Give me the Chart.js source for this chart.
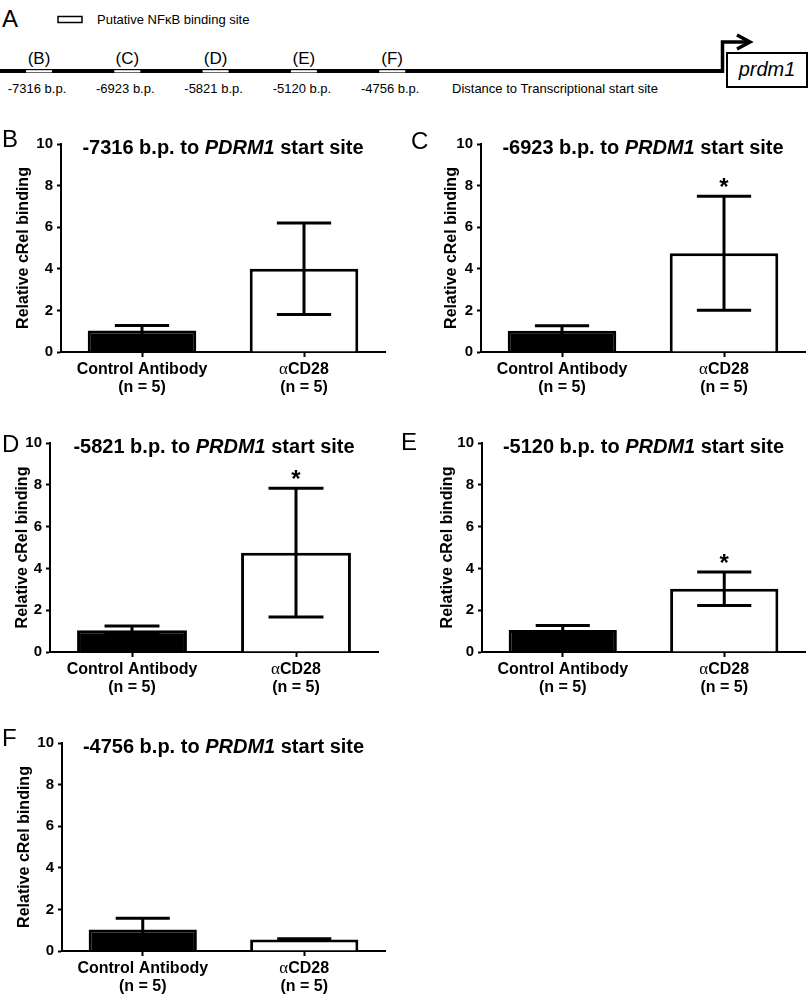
<!DOCTYPE html>
<html>
<head>
<meta charset="utf-8">
<script src="https://cdn.jsdelivr.net/npm/chart.js@4.4.1/dist/chart.umd.min.js"></script>
<style>
  body { margin: 0; background: #fff; width: 810px; height: 995px; position: relative; overflow: hidden;
         font-family: Arial, "Liberation Sans", sans-serif; }
  canvas { position: absolute; }
  .letter { position: absolute; font-size: 24px; line-height: 24px; color: #000; }
  #schematic { position: absolute; left: 0; top: 0; }
</style>
</head>
<body>
<svg id="schematic" width="810" height="110"></svg>

<script>
// ---- data ----
const categories = ["Control Antibody", "αCD28"];
const groupSizes = ["(n = 5)", "(n = 5)"];

const siteLetters = ["(B)", "(C)", "(D)", "(E)", "(F)"];
const siteDistances = ["-7316 b.p.", "-6923 b.p.", "-5821 b.p.", "-5120 b.p.", "-4756 b.p."];
const geneNames = ["PDRM1", "PRDM1", "PRDM1", "PRDM1", "PRDM1"];

const yTicksMax = 10;
const yTicksStep = 2;

const meanB = [1.03, 4.0];
const semB = [0.25, 2.2];
const starB = [false, false];

const meanC = [1.02, 4.75];
const semC = [0.24, 2.74];
const starC = [false, true];

const meanD = [1.04, 4.75];
const semD = [0.2, 3.08];
const starD = [false, true];

const meanE = [1.05, 3.03];
const semE = [0.22, 0.8];
const starE = [false, true];

const meanF = [1.03, 0.55];
const semF = [0.55, 0.04];
const starF = [false, false];

const FONT = 'Arial, "Liberation Sans", sans-serif';
Chart.defaults.font.family = FONT;
Chart.defaults.color = "#000";

// ---- panel A schematic ----
(function drawSchematic() {
  const svg = document.getElementById("schematic");
  let s = "";
  s += `<text x="2" y="27" font-family='${FONT}' font-size="24">A</text>`;
  s += `<rect x="58" y="16.5" width="24" height="6" fill="#fff" stroke="#000" stroke-width="1.5"/>`;
  s += `<text x="97" y="24" font-family='${FONT}' font-size="13">Putative NFκB binding site</text>`;
  s += `<rect x="0" y="69" width="724" height="4" fill="#000"/>`;
  siteLetters.forEach((lab, i) => {
    const bx = 26 + i * 88.3;
    s += `<rect x="${bx}" y="70.2" width="26" height="2.2" fill="#fff"/>`;
    s += `<text x="${bx + 13}" y="64" text-anchor="middle" font-family='${FONT}' font-size="17">${lab}</text>`;
    s += `<text x="${bx + 11}" y="92.7" text-anchor="middle" font-family='${FONT}' font-size="13">${siteDistances[i]}</text>`;
  });
  s += `<text x="452" y="92.7" font-family='${FONT}' font-size="13">Distance to Transcriptional start site</text>`;
  s += `<path d="M722.5 73 V42 H748" fill="none" stroke="#000" stroke-width="3.5"/>`;
  s += `<polyline points="737,35 750,42 737,49" fill="none" stroke="#000" stroke-width="3.5"/>`;
  s += `<rect x="727" y="53" width="80" height="34" fill="#fff" stroke="#000" stroke-width="2"/>`;
  s += `<text x="767" y="76" text-anchor="middle" font-family='${FONT}' font-size="20" font-style="italic">prdm1</text>`;
  svg.innerHTML = s;
})();

// ---- extras: error bars, stars, title, category labels ----
const panelExtras = {
  id: "panelExtras",
  afterDatasetsDraw(chart, args, opts) {
    const ctx = chart.ctx;
    const y = chart.scales.y;
    const meta = chart.getDatasetMeta(0);
    ctx.save();
    ctx.strokeStyle = "#000";
    ctx.fillStyle = "#000";
    ctx.lineWidth = 3;
    meta.data.forEach((bar, i) => {
      const hi = y.getPixelForValue(opts.mean[i] + opts.sem[i]);
      const lo = y.getPixelForValue(opts.mean[i] - opts.sem[i]);
      const half = bar.width / 4;
      ctx.beginPath();
      ctx.moveTo(bar.x, lo); ctx.lineTo(bar.x, hi);
      ctx.moveTo(bar.x - half, hi); ctx.lineTo(bar.x + half, hi);
      ctx.moveTo(bar.x - half, lo); ctx.lineTo(bar.x + half, lo);
      ctx.stroke();
      if (opts.star[i]) {
        ctx.font = `bold 24px ${FONT}`;
        ctx.textAlign = "center";
        ctx.textBaseline = "alphabetic";
        ctx.fillText("*", bar.x, hi - 1);
      }
    });
    ctx.restore();
  },
  afterDraw(chart, args, opts) {
    const ctx = chart.ctx;
    const area = chart.chartArea;
    const x = chart.scales.x;
    ctx.save();
    ctx.fillStyle = "#000";
    ctx.textBaseline = "alphabetic";
    ctx.textAlign = "left";
    // title
    const segs = [
      [`${opts.distance} to `, `bold 20px ${FONT}`],
      [opts.gene, `italic bold 20px ${FONT}`],
      [" start site", `bold 20px ${FONT}`]
    ];
    let total = 0;
    segs.forEach(sg => { ctx.font = sg[1]; total += ctx.measureText(sg[0]).width; });
    let tx = (area.left + area.right) / 2 - total / 2;
    segs.forEach(sg => { ctx.font = sg[1]; ctx.fillText(sg[0], tx, area.top + 9.5); tx += ctx.measureText(sg[0]).width; });
    // category labels
    ctx.textBaseline = "middle";
    categories.forEach((lab, i) => {
      const cx = x.getPixelForValue(i);
      if (lab.startsWith("α")) {
        ctx.font = `17px "Liberation Serif", "Times New Roman", serif`;
        const wa = ctx.measureText("α").width;
        ctx.font = `bold 16px ${FONT}`;
        const wr = ctx.measureText(lab.slice(1)).width;
        let lx = cx - (wa + wr) / 2;
        ctx.font = `17px "Liberation Serif", "Times New Roman", serif`;
        ctx.fillText("α", lx, area.bottom + 18);
        ctx.font = `bold 16px ${FONT}`;
        ctx.fillText(lab.slice(1), lx + wa, area.bottom + 18);
      } else {
        ctx.font = `bold 16px ${FONT}`;
        ctx.textAlign = "center";
        ctx.fillText(lab, cx, area.bottom + 18);
        ctx.textAlign = "left";
      }
      ctx.font = `bold 16px ${FONT}`;
      ctx.textAlign = "center";
      ctx.fillText(groupSizes[i], cx, area.bottom + 36);
      ctx.textAlign = "left";
    });
    ctx.restore();
  }
};

function makePanel(p) {
  const canvas = document.createElement("canvas");
  canvas.width = p.w; canvas.height = p.h;
  canvas.style.left = p.left + "px"; canvas.style.top = p.top + "px";
  canvas.style.width = p.w + "px"; canvas.style.height = p.h + "px";
  document.body.appendChild(canvas);

  const letter = document.createElement("div");
  letter.className = "letter";
  letter.textContent = p.letter;
  letter.style.left = p.letterX + "px";
  letter.style.top = p.letterY + "px";
  document.body.appendChild(letter);

  new Chart(canvas, {
    type: "bar",
    data: {
      labels: categories,
      datasets: [{
        data: p.mean,
        backgroundColor: ["#000", "#fff"],
        borderColor: "#000",
        borderWidth: 3,
        barPercentage: 0.67,
        categoryPercentage: 1
      }]
    },
    options: {
      responsive: false,
      animation: false,
      devicePixelRatio: 1,
      layout: { padding: p.pad },
      plugins: {
        legend: { display: false },
        tooltip: { enabled: false },
        panelExtras: { mean: p.mean, sem: p.sem, star: p.star, distance: p.distance, gene: p.gene }
      },
      scales: {
        x: {
          z: 1,
          ticks: { display: false },
          grid: { drawOnChartArea: false, offset: false, tickLength: 5, tickWidth: 2, tickColor: "#000" },
          border: { color: "#000", width: 2 },
          afterFit: s => { s.height = 40; }
        },
        y: {
          z: 1,
          min: 0,
          max: yTicksMax,
          ticks: { stepSize: yTicksStep, color: "#000", padding: 4, font: { size: 15, weight: "bold" } },
          grid: { drawOnChartArea: false, tickLength: 4, tickWidth: 2, tickColor: "#000" },
          border: { color: "#000", width: 2 },
          title: { display: true, text: "Relative cRel binding", color: "#000", font: { size: 16, weight: "bold" } },
          afterFit: s => { s.width = p.yWidth; }
        }
      }
    },
    plugins: [panelExtras]
  });
}

makePanel({ letter: "B", letterX: 2, letterY: 127, left: 0, top: 120, w: 400, h: 280,
  pad: { left: 10.4, right: 15, top: 24, bottom: 8 }, yWidth: 50.6,
  mean: meanB, sem: semB, star: starB, distance: siteDistances[0], gene: geneNames[0] });
makePanel({ letter: "C", letterX: 411, letterY: 129, left: 405, top: 120, w: 405, h: 280,
  pad: { left: 33.4, right: 5, top: 24, bottom: 8 }, yWidth: 42.6,
  mean: meanC, sem: semC, star: starC, distance: siteDistances[1], gene: geneNames[1] });
makePanel({ letter: "D", letterX: 2, letterY: 432, left: 0, top: 420, w: 400, h: 280,
  pad: { left: 9.4, right: 22, top: 23, bottom: 8 }, yWidth: 40.6,
  mean: meanD, sem: semD, star: starD, distance: siteDistances[2], gene: geneNames[2] });
makePanel({ letter: "E", letterX: 401, letterY: 430, left: 405, top: 420, w: 405, h: 280,
  pad: { left: 29.4, right: 5, top: 23, bottom: 8 }, yWidth: 47.6,
  mean: meanE, sem: semE, star: starE, distance: siteDistances[3], gene: geneNames[3] });
makePanel({ letter: "F", letterX: 2, letterY: 726, left: 0, top: 720, w: 400, h: 275,
  pad: { left: 11.4, right: 15, top: 23, bottom: 4 }, yWidth: 50.6,
  mean: meanF, sem: semF, star: starF, distance: siteDistances[4], gene: geneNames[4] });
</script>
</body>
</html>
